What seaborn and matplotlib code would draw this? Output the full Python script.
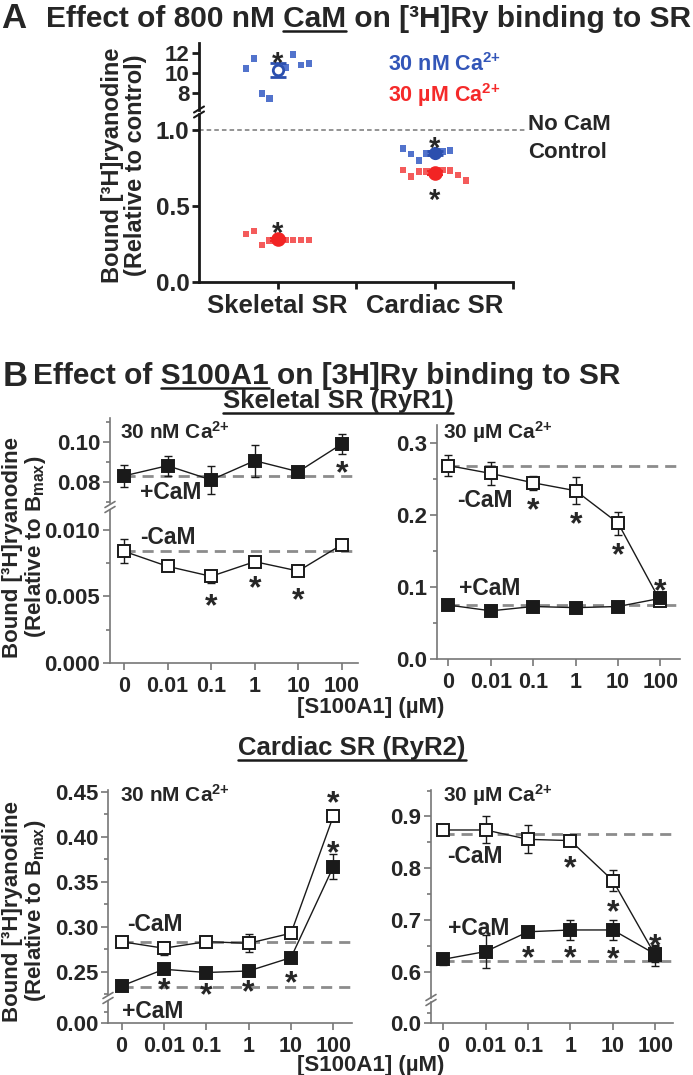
import numpy as np
import pandas as pd
import matplotlib
matplotlib.use('Agg')
import matplotlib.pyplot as plt
import seaborn as sns
from matplotlib.lines import Line2D
from matplotlib.ticker import FixedLocator, MultipleLocator, FormatStrFormatter

# ---------------- data ----------------
# Panel A: single experiments (left-to-right as drawn) and mean +/- SEM
groups_a = ['Skeletal SR', 'Cardiac SR']
skel_30nM = [10.44, 11.44, 7.94, 7.44, 10.5, 11.84, 10.77, 10.94]
skel_30uM = [0.314, 0.334, 0.242, 0.270, 0.275, 0.275, 0.275, 0.275]
card_30nM = [0.879, 0.842, 0.798, 0.846, 0.857, 0.864]
card_30uM = [0.736, 0.692, 0.725, 0.725, 0.736, 0.732, 0.703, 0.666]
mean_30nM = [10.27, 0.846]
sem_30nM = [0.67, 0.012]
mean_30uM = [0.279, 0.714]
sem_30uM = [0.012, 0.014]

# Panel B: [S100A1] series, mean +/- SEM
conc = ['0', '0.01', '0.1', '1', '10', '100']
skel_nM_minus = [0.00838, 0.00725, 0.0065, 0.0076, 0.0069, 0.00888]
skel_nM_minus_err = [0.0009, 0.0002, 0.0005, 0.0003, 0.0002, 0.0002]
skel_nM_plus = [0.0829, 0.088, 0.0809, 0.0905, 0.085, 0.0989]
skel_nM_plus_err = [0.0055, 0.005, 0.0072, 0.008, 0.001, 0.005]
skel_uM_minus = [0.269, 0.258, 0.245, 0.234, 0.189, 0.080]
skel_uM_minus_err = [0.015, 0.016, 0.010, 0.019, 0.016, 0.005]
skel_uM_plus = [0.075, 0.067, 0.073, 0.0714, 0.073, 0.0844]
skel_uM_plus_err = [0.004, 0.003, 0.008, 0.008, 0.006, 0.005]
card_nM_minus = [0.2833, 0.276, 0.2833, 0.2815, 0.2927, 0.423]
card_nM_minus_err = [0.004, 0.007, 0.003, 0.010, 0.004, 0.005]
card_nM_plus = [0.234, 0.2526, 0.249, 0.2507, 0.2656, 0.3667]
card_nM_plus_err = [0.003, 0.004, 0.003, 0.003, 0.004, 0.014]
card_uM_minus = [0.874, 0.874, 0.856, 0.8536, 0.7766, 0.633]
card_uM_minus_err = [0.010, 0.026, 0.027, 0.006, 0.021, 0.020]
card_uM_plus = [0.625, 0.640, 0.678, 0.6815, 0.6815, 0.635]
card_uM_plus_err = [0.010, 0.032, 0.010, 0.020, 0.020, 0.015]
# control (no S100A1) levels: (-CaM, +CaM)
ctrl = {'skel_nM': (0.00838, 0.0829), 'skel_uM': (0.269, 0.075),
        'card_nM': (0.2826, 0.2333), 'card_uM': (0.866, 0.622)}

# ---------------- style ----------------
sns.set_theme(style='ticks')
plt.rcParams['font.family'] = ['Liberation Sans', 'DejaVu Sans']
plt.rcParams['font.weight'] = 'bold'
plt.rcParams['mathtext.fontset'] = 'custom'
plt.rcParams['mathtext.rm'] = 'Liberation Sans:bold'
plt.rcParams['mathtext.it'] = 'Liberation Sans:bold'
plt.rcParams['mathtext.bf'] = 'Liberation Sans:bold'
plt.rcParams['mathtext.default'] = 'rm'

W, H = 693, 1075
fig = plt.figure(figsize=(W / 100, H / 100), dpi=100)

def add_ax(x0, y0, x1, y1):
    ax = fig.add_axes([x0 / W, 1 - y1 / H, (x1 - x0) / W, (y1 - y0) / H])
    ax.set_facecolor('none')
    return ax

def brk(x, y, color='k', lw=1.5):
    for dy in (-2.5, 2.5):
        fig.add_artist(Line2D([(x - 5) / W, (x + 5) / W],
                              [1 - (y + dy + 3) / H, 1 - (y + dy - 3) / H],
                              color=color, lw=lw))

def star(ax, x, y, fs=23):
    ax.annotate('*', (x, y), xytext=(0, -0.3 * fs), textcoords='offset points',
                ha='center', va='center', fontsize=fs, fontweight='bold',
                annotation_clip=False, zorder=6)

BLUE_PT, RED_PT = '#5273cc', '#f45b5b'
BLUE, RED = '#2b4fae', '#f22424'
CA = r'Ca$^{2{+}}$'

# ---------------- panel A ----------------
ax_au = add_ax(199, 43, 513, 110)
ax_al = add_ax(199, 114, 513, 281.7)

rows = []
for gi, (nm, um) in enumerate([(skel_30nM, skel_30uM), (card_30nM, card_30uM)]):
    for vals, ca in ((nm, '30 nM'), (um, '30 uM')):
        n = len(vals)
        slots = np.r_[np.arange(-4, 0), np.arange(1, n - 3)]
        for s, v in zip(slots, vals):
            rows.append({'x': gi + s * 0.05, 'y': v, 'ca': ca})
df_a = pd.DataFrame(rows)

for ax in (ax_au, ax_al):
    sns.scatterplot(data=df_a, x='x', y='y', hue='ca', palette={'30 nM': BLUE_PT, '30 uM': RED_PT},
                    marker='s', s=22, edgecolor='none', legend=False, ax=ax, zorder=2)
    for gi in range(2):
        ax.errorbar(gi, mean_30nM[gi], yerr=sem_30nM[gi], fmt='o', color=BLUE, ms=7.5, mew=2,
                    mfc='white' if gi == 0 else BLUE, capsize=6, capthick=2, elinewidth=2, zorder=4)
        ax.errorbar(gi, mean_30uM[gi], yerr=sem_30uM[gi], fmt='o', color=RED, ms=9, mew=1.5,
                    capsize=6, capthick=2, elinewidth=2, zorder=4)
    ax.set_xlim(-0.5, 1.5)
    ax.set_xlabel('')
    ax.set_ylabel('')
    for sp in ('left', 'bottom'):
        ax.spines[sp].set_linewidth(2)
        ax.spines[sp].set_color('k')
    ax.tick_params(width=2, length=5, color='k', labelsize=17.5, pad=2)
    sns.despine(ax=ax)

ax_au.set_ylim(6.27, 12.97)
ax_au.yaxis.set_major_locator(FixedLocator([8, 10, 12]))
ax_au.tick_params(axis='y', labelsize=16)
ax_au.spines['bottom'].set_visible(False)
ax_au.tick_params(axis='x', bottom=False, labelbottom=False)
ax_al.set_ylim(0, 1.105)
ax_al.yaxis.set_major_locator(FixedLocator([0, 0.5, 1.0]))
ax_al.yaxis.set_major_formatter(FormatStrFormatter('%.1f'))
ax_al.set_xticks([0, 1])
ax_al.set_xticklabels(groups_a, fontsize=18.5)
ax_al.xaxis.set_minor_locator(FixedLocator([0.5, 1.5]))
ax_al.tick_params(axis='x', which='both', width=2, length=5, color='k', pad=4)
ax_al.plot([-0.5, 1.583], [1.0, 1.0], color='#777777', lw=1.1, ls=(0, (3, 2)),
           clip_on=False, zorder=1)
brk(199, 112)

star(ax_au, 0, 11.77, 21)
star(ax_al, 0, 0.374, 21)
star(ax_al, 1, 0.934, 21)
star(ax_al, 1, 0.593, 21)

fig.text(124 / W, 1 - 165 / H, 'Bound [³H]ryanodine\n(Relative to control)', rotation=90,
         ha='center', va='center', multialignment='center', fontsize=17, linespacing=1.05)
fig.text(388 / W, 1 - 65 / H, '30 nM ' + CA, color='#3356b8', fontsize=15.5, va='center')
fig.text(388 / W, 1 - 95 / H, '30 µM ' + CA, color='#f52a2a', fontsize=15.5, va='center')
fig.text(528 / W, 1 - 125 / H, 'No CaM', fontsize=16, va='center')
fig.text(528 / W, 1 - 152 / H, 'Control', fontsize=16, va='center')

# ---------------- panel B ----------------
GRAY = '#777777'

def style_b(ax, xlim, bottom_axis=True):
    ax.set_xlim(*xlim)
    sns.despine(ax=ax)
    for sp in ('left', 'bottom'):
        ax.spines[sp].set_linewidth(1.2)
        ax.spines[sp].set_color(GRAY)
    ax.tick_params(which='major', width=1.2, length=5, color=GRAY, labelsize=16, pad=2)
    ax.tick_params(which='minor', width=1.2, length=3, color=GRAY, left=True)
    if bottom_axis:
        ax.set_xticks(range(len(conc)))
        ax.set_xticklabels(conc, fontsize=15.5)
        ax.tick_params(axis='x', pad=4)
    else:
        ax.spines['bottom'].set_visible(False)
        ax.tick_params(axis='x', bottom=False, labelbottom=False)
    ax.set_xlabel('')
    ax.set_ylabel('')

def draw_series(ax, vals, errs, filled):
    x = np.arange(len(vals))
    ax.errorbar(x, vals, yerr=errs, fmt='none', ecolor='k', elinewidth=1, capsize=3,
                capthick=1, zorder=3)
    sns.lineplot(x=x, y=vals, ax=ax, color='k', lw=1, marker='s', markersize=8.5,
                 markerfacecolor='k' if filled else 'white', markeredgecolor='k',
                 markeredgewidth=1.4, zorder=4)

def control(ax, y, xmax):
    ax.plot([0, xmax], [y, y], color='#8c8c8c', lw=2, ls=(0, (4, 2.5)), zorder=2)

LAB = 16.5
CAL = 15

# Skeletal, 30 nM Ca (broken axis)
tl_u = add_ax(110, 418, 358, 503)
tl_l = add_ax(110, 510, 358, 663)
for ax in (tl_u, tl_l):
    control(ax, ctrl['skel_nM'][0], 5.37)
    control(ax, ctrl['skel_nM'][1], 5.37)
    draw_series(ax, skel_nM_minus, skel_nM_minus_err, False)
    draw_series(ax, skel_nM_plus, skel_nM_plus_err, True)
style_b(tl_u, (-0.32, 5.37), bottom_axis=False)
style_b(tl_l, (-0.32, 5.37))
tl_u.set_ylim(0.06935, 0.11185)
tl_u.yaxis.set_major_locator(FixedLocator([0.08, 0.10]))
tl_u.yaxis.set_minor_locator(FixedLocator([0.07, 0.09, 0.11]))
tl_u.yaxis.set_major_formatter(FormatStrFormatter('%.2f'))
tl_l.set_ylim(0, 0.011475)
tl_l.yaxis.set_major_locator(FixedLocator([0, 0.005, 0.010]))
tl_l.yaxis.set_minor_locator(MultipleLocator(0.0025))
tl_l.yaxis.set_major_formatter(FormatStrFormatter('%.3f'))
brk(110, 507, GRAY, 1.2)
tl_u.text(-0.09, 0.1049, '30 nM ' + CA, fontsize=CAL, va='center')
tl_u.text(0.37, 0.0744, '+CaM', fontsize=LAB, va='center')
tl_l.text(0.37, 0.00938, '-CaM', fontsize=LAB, va='center')
star(tl_u, 5, 0.0884)
for xi, yi in ((2, 0.00488), (3, 0.00623), (4, 0.00535)):
    star(tl_l, xi, yi)

# Skeletal, 30 uM Ca
tr = add_ax(437, 425, 680, 659)
control(tr, ctrl['skel_uM'][0], 5.46)
control(tr, ctrl['skel_uM'][1], 5.46)
draw_series(tr, skel_uM_minus, skel_uM_minus_err, False)
draw_series(tr, skel_uM_plus, skel_uM_plus_err, True)
style_b(tr, (-0.27, 5.46))
tr.set_ylim(0, 0.3254)
tr.yaxis.set_major_locator(MultipleLocator(0.1))
tr.yaxis.set_minor_locator(MultipleLocator(0.05))
tr.yaxis.set_major_formatter(FormatStrFormatter('%.1f'))
tr.text(-0.12, 0.316, '30 µM ' + CA, fontsize=CAL, va='center')
tr.text(0.21, 0.221, '-CaM', fontsize=LAB, va='center')
tr.text(0.24, 0.0987, '+CaM', fontsize=LAB, va='center')
for xi, yi in ((2, 0.219), (3, 0.199), (4, 0.156), (5, 0.106)):
    star(tr, xi, yi)

# Cardiac, 30 nM Ca (broken axis)
bl_u = add_ax(108, 790, 352, 995)
bl_l = add_ax(108, 1001, 352, 1023.3)
for ax in (bl_u, bl_l):
    control(ax, ctrl['card_nM'][0], 5.44)
    control(ax, ctrl['card_nM'][1], 5.44)
    draw_series(ax, card_nM_minus, card_nM_minus_err, False)
    draw_series(ax, card_nM_plus, card_nM_plus_err, True)
style_b(bl_u, (-0.32, 5.44), bottom_axis=False)
style_b(bl_l, (-0.32, 5.44))
bl_u.set_ylim(0.224, 0.4519)
bl_u.yaxis.set_major_locator(MultipleLocator(0.05))
bl_u.yaxis.set_minor_locator(MultipleLocator(0.025))
bl_u.yaxis.set_major_formatter(FormatStrFormatter('%.2f'))
bl_l.set_ylim(0, 0.02)
bl_l.yaxis.set_major_locator(FixedLocator([0]))
bl_l.yaxis.set_minor_locator(FixedLocator([0.01]))
bl_l.yaxis.set_major_formatter(FormatStrFormatter('%.2f'))
brk(108, 998, GRAY, 1.2)
bl_u.text(-0.04, 0.446, '30 nM ' + CA, fontsize=CAL, va='center')
bl_u.text(0.125, 0.302, '-CaM', fontsize=LAB, va='center')
fig.text(122 / W, 1 - 1012 / H, '+CaM', fontsize=LAB, va='center', zorder=7)
for xi, yi in ((1, 0.2385), (2, 0.2335), (3, 0.2365), (4, 0.2463), (5, 0.4463), (5, 0.3907)):
    star(bl_u, xi, yi)

# Cardiac, 30 uM Ca (broken axis)
br_u = add_ax(431, 790, 673, 998)
br_l = add_ax(431, 1002, 673, 1023.3)
for ax in (br_u, br_l):
    control(ax, ctrl['card_uM'][0], 5.42)
    control(ax, ctrl['card_uM'][1], 5.42)
    draw_series(ax, card_uM_minus, card_uM_minus_err, False)
    draw_series(ax, card_uM_plus, card_uM_plus_err, True)
style_b(br_u, (-0.29, 5.42), bottom_axis=False)
style_b(br_l, (-0.29, 5.42))
br_u.set_ylim(0.5505, 0.951)
br_u.yaxis.set_major_locator(MultipleLocator(0.1))
br_u.yaxis.set_minor_locator(MultipleLocator(0.05))
br_u.yaxis.set_major_formatter(FormatStrFormatter('%.1f'))
br_l.set_ylim(0, 0.04)
br_l.yaxis.set_major_locator(FixedLocator([0]))
br_l.yaxis.set_minor_locator(FixedLocator([0.02]))
br_l.yaxis.set_major_formatter(FormatStrFormatter('%.1f'))
brk(431, 1000, GRAY, 1.2)
br_u.text(0.0, 0.9416, '30 µM ' + CA, fontsize=CAL, va='center')
br_u.text(0.09, 0.822, '-CaM', fontsize=LAB, va='center')
br_u.text(0.11, 0.685, '+CaM', fontsize=LAB, va='center')
for xi, yi in ((3, 0.8164), (4, 0.733), (2, 0.643), (3, 0.643), (4, 0.6416), (5, 0.666)):
    star(br_u, xi, yi)

for yc in (547, 911):
    fig.text(25 / W, 1 - yc / H, 'Bound [³H]ryanodine\n(Relative to B$_{max}$)', rotation=90,
             ha='center', va='center', multialignment='center', fontsize=16, linespacing=1.0)
for yc in (708, 1066):
    fig.text(371 / W, 1 - yc / H, '[S100A1] (µM)', ha='center', va='center', fontsize=16)

# ---------------- titles with underlines ----------------
TS = 21.5
fig.text(1 / W, 1 - 28 / H, 'A', fontsize=25, va='baseline')
title_a = fig.text(46 / W, 1 - 27 / H, 'Effect of 800 nM CaM on [³H]Ry binding to SR',
                   fontsize=TS, va='baseline')
fig.text(3 / W, 1 - 386 / H, 'B', fontsize=25, va='baseline')
title_b = fig.text(33 / W, 1 - 384 / H, 'Effect of S100A1 on [3H]Ry binding to SR',
                   fontsize=TS, va='baseline')
sub1 = fig.text(338 / W, 1 - 408 / H, 'Skeletal SR (RyR1)', fontsize=18.5, ha='center',
                va='baseline')
sub2 = fig.text(352 / W, 1 - 755 / H, 'Cardiac SR (RyR2)', fontsize=18.5, ha='center',
                va='baseline')

fig.canvas.draw()
renderer = fig.canvas.get_renderer()

def text_width(s, size):
    t = fig.text(0, 0, s, fontsize=size)
    w = t.get_window_extent(renderer).width
    t.remove()
    return w

def underline(x0_px, x1_px, y_px, lw=1.8):
    fig.add_artist(Line2D([x0_px / W, x1_px / W], [1 - y_px / H, 1 - y_px / H],
                          color='k', lw=lw))

for t, prefix, word, base in ((title_a, 'Effect of 800 nM CaM', 'CaM', 27),
                              (title_b, 'Effect of S100A1', 'S100A1', 384)):
    x0 = t.get_window_extent(renderer).x0
    wp = text_width(prefix, TS)
    ww = text_width(word, TS)
    underline(x0 + wp - ww, x0 + wp, base + 4)
for t, base in ((sub1, 408), (sub2, 755)):
    bb = t.get_window_extent(renderer)
    underline(bb.x0, bb.x1, base + 5)

fig.savefig('out.png', dpi=100)
